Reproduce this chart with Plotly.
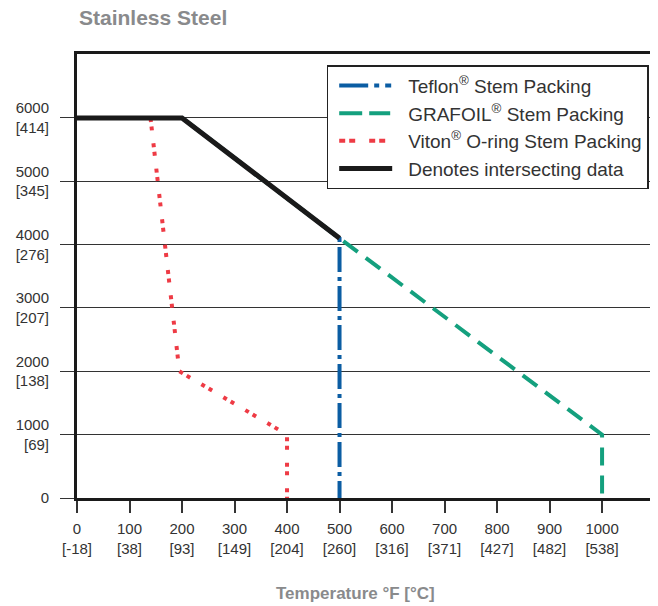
import plotly.graph_objects as go

# ---- data (temperature °F, pressure psi) ----
teflon_x = [0, 200, 500, 500]
teflon_y = [6000, 6000, 4100, 0]
grafoil_x = [0, 200, 500, 1000, 1000]
grafoil_y = [6000, 6000, 4100, 1000, 0]
viton_x = [140, 195, 400, 400]
viton_y = [6000, 2000, 1000, 0]
common_x = [0, 200, 500]
common_y = [6000, 6000, 4100]

x_tickvals = [0, 100, 200, 300, 400, 500, 600, 700, 800, 900, 1000]
x_ticktext = ["0<br>[-18]", "100<br>[38]", "200<br>[93]", "300<br>[149]", "400<br>[204]",
              "500<br>[260]", "600<br>[316]", "700<br>[371]", "800<br>[427]", "900<br>[482]",
              "1000<br>[538]"]
y_tickvals = [0, 1000, 2000, 3000, 4000, 5000, 6000]
y_ticktext = ["0", "1000<br>[69]", "2000<br>[138]", "3000<br>[207]", "4000<br>[276]",
              "5000<br>[345]", "6000<br>[414]"]

SANS = "Liberation Sans, Arial, Helvetica"
TXT = "#333333"
GRAY = "#898a8c"
BLUE, GREEN, RED, BLACK = "#0b5da3", "#14a07e", "#ee3b45", "#1a1a1a"

# page body has an 8px margin: figure is shifted by 8px right/down
W, H = 650, 598
ML, MT, MR, MB = 69, 46, 2, 108

fig = go.Figure()
# data traces (legend entries drawn by separate legend-only traces below)
fig.add_trace(go.Scatter(x=teflon_x, y=teflon_y, mode="lines", showlegend=False,
                         line=dict(color=BLUE, width=4, dash="25px,5px,4px,5px")))
fig.add_trace(go.Scatter(x=grafoil_x, y=grafoil_y, mode="lines", showlegend=False,
                         line=dict(color=GREEN, width=4, dash="18px,10px")))
fig.add_trace(go.Scatter(x=viton_x, y=viton_y, mode="lines", showlegend=False,
                         line=dict(color=RED, width=4, dash="4px,4.5px,4px,13px")))
fig.add_trace(go.Scatter(x=common_x, y=common_y, mode="lines", showlegend=False,
                         line=dict(color=BLACK, width=5)))
# legend entries
fig.add_trace(go.Scatter(x=[None], y=[None], mode="lines", legendgroup="a",
                         name="Teflon<sup>®</sup> Stem Packing",
                         line=dict(color=BLUE, width=4,
                                   dash="0px,6px,29px,6px,5px,6px,6px,100px")))
fig.add_trace(go.Scatter(x=[None], y=[None], mode="lines", legendgroup="b",
                         name="GRAFOIL<sup>®</sup> Stem Packing",
                         line=dict(color=GREEN, width=4, dash="0px,6px,23px,7px,21px,100px")))
fig.add_trace(go.Scatter(x=[None], y=[None], mode="lines", legendgroup="c",
                         name="Viton<sup>®</sup> O-ring Stem Packing",
                         line=dict(color=RED, width=4,
                                   dash="0px,6px,6px,4px,6px,14px,6px,4px,6px,100px")))
fig.add_trace(go.Scatter(x=[None], y=[None], mode="lines", legendgroup="d",
                         name="Denotes intersecting data",
                         line=dict(color=BLACK, width=5, dash="0px,6px,53px,100px")))

fig.update_layout(
    width=W, height=H,
    margin=dict(l=ML, r=MR, t=MT, b=MB),
    paper_bgcolor="white", plot_bgcolor="white",
    showlegend=True,
    legend=dict(x=0.4335, y=0.975, xanchor="left", yanchor="top",
                bgcolor="white", bordercolor="#222", borderwidth=1.5,
                font=dict(family=SANS, size=19, color=TXT),
                tracegroupgap=0, traceorder="grouped", itemwidth=70),
    annotations=[
        dict(text="<b>Stainless Steel</b>", xref="paper", yref="paper",
             x=0, y=(498 - 18) / 444, xanchor="left", yanchor="middle",
             showarrow=False, font=dict(family=SANS, size=21, color=GRAY)),
        dict(text="<b>Temperature °F [°C]</b>", xref="paper", yref="paper",
             x=(357 - 77) / 579, y=(498 - 593) / 444, xanchor="center", yanchor="middle",
             showarrow=False, font=dict(family=SANS, size=17, color=GRAY)),
    ],
)
fig.update_xaxes(range=[0, 1097], tickvals=x_tickvals, ticktext=x_ticktext,
                 showgrid=False, zeroline=False, showline=True, linecolor=BLACK,
                 linewidth=3, mirror=True, ticks="outside", ticklen=12, tickwidth=1.5,
                 tickcolor="#333", ticklabelstandoff=3,
                 tickfont=dict(family=SANS, size=15, color=TXT))
fig.update_yaxes(range=[0, 7010], tickvals=y_tickvals, ticktext=y_ticktext,
                 showgrid=True, gridcolor="#333", gridwidth=1.2, zeroline=False,
                 showline=True, linecolor=BLACK, linewidth=3, mirror=True,
                 ticks="outside", ticklen=14, tickwidth=1.2, tickcolor="#333",
                 ticklabelstandoff=8,
                 tickfont=dict(family=SANS, size=15, color=TXT))

fig.write_html("out.html")
